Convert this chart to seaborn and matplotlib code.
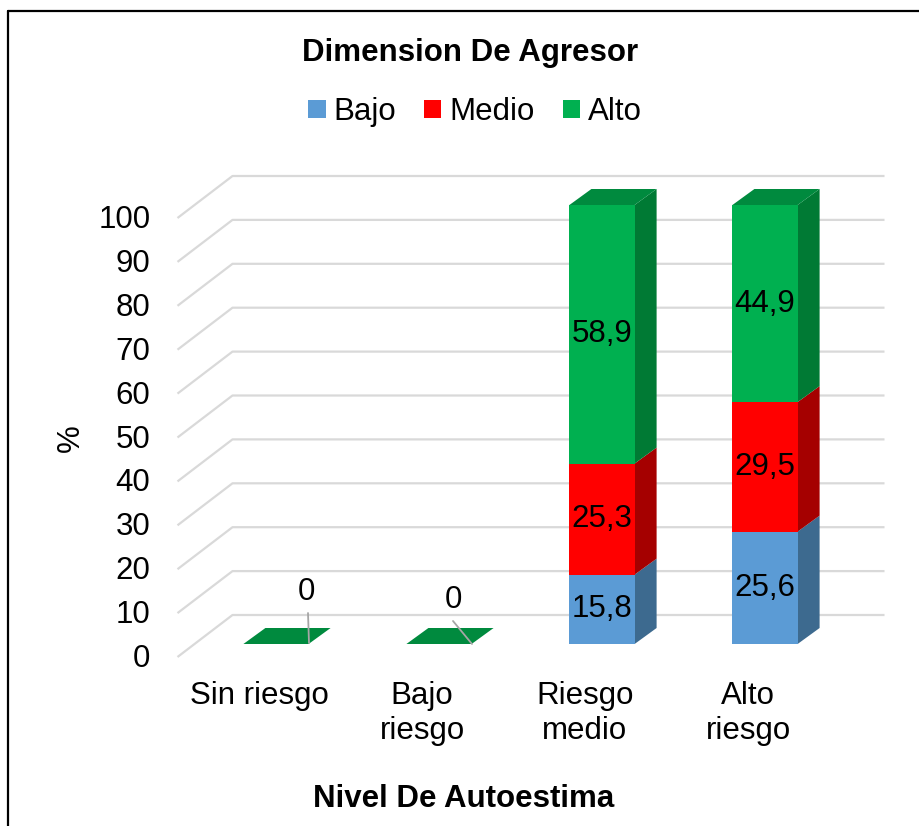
import matplotlib
matplotlib.use("Agg")
import matplotlib.pyplot as plt
from matplotlib.patches import Polygon, Patch
from matplotlib.lines import Line2D
import numpy as np
import seaborn as sns

# data
categories = ["Sin riesgo", "Bajo\nriesgo", "Riesgo\nmedio", "Alto\nriesgo"]
series = ["Bajo", "Medio", "Alto"]
bajo = [0, 0, 15.8, 25.6]
medio = [0, 0, 25.3, 29.5]
alto = [0, 0, 58.9, 44.9]
y_ticks = [0, 10, 20, 30, 40, 50, 60, 70, 80, 90, 100]

front_colors = {"Bajo": "#5B9BD5", "Medio": "#FF0000", "Alto": "#00B050"}
side_colors = {"Bajo": "#3D6A8F", "Medio": "#A50000", "Alto": "#007A34"}
top_color = "#008A3E"
grid_color = "#D9D9D9"

sns.set_style("white")
plt.rcParams["font.family"] = ["Liberation Sans", "DejaVu Sans"]
plt.rcParams["text.color"] = "black"
FS = 22.5

W, H = 919, 826
fig = plt.figure(figsize=(W / 100, H / 100), dpi=100)
ax = fig.add_axes([0, 0, 1, 1])

# pixel geometry of the fake 3D box (bar front plane is the data plane)
PX_CAT, PX_UNIT, X0, Y0 = 163.0, 4.39, 276.0, 644.0


def off(dx_px, dy_px):
    """pixel shift (right, down) -> data shift"""
    return dx_px / PX_CAT, -dy_px / PX_UNIT


bar_dx, bar_dv = off(22, -16)     # bar depth
wall_dx, wall_dv = off(38, -29)   # back wall
edge_dx, edge_dv = off(-17, 13)   # front edge of floor / side wall

cum_medio = np.add(bajo, medio)
cum_alto = cum_medio + np.array(alto)

# front faces, drawn back to front so they stack
for name, vals in [("Alto", cum_alto), ("Medio", cum_medio), ("Bajo", bajo)]:
    sns.barplot(x=categories, y=vals, color=front_colors[name], width=0.4,
                saturation=1, linewidth=0, ax=ax, zorder=3)

# gridlines: side wall diagonal + back wall horizontal
for v in y_ticks:
    xs = [-0.5 + edge_dx, -0.5 + wall_dx, len(categories) - 0.5 + wall_dx]
    ys = [v + edge_dv, v + wall_dv, v + wall_dv]
    ax.plot(xs, ys, color=grid_color, lw=1.6, zorder=0.5, solid_capstyle="butt")
    ax.text(-0.5 + edge_dx - 27 / PX_CAT, v + edge_dv - 2 / PX_UNIT, str(v),
            ha="right", va="center", fontsize=FS)

# side faces, top faces and value labels
bars = ax.patches[:len(categories)]
for i, p in enumerate(bars):
    xl = p.get_x()
    xr = xl + p.get_width()
    xc = xl + p.get_width() / 2
    segs = [(0, bajo[i], "Bajo"), (bajo[i], cum_medio[i], "Medio"),
            (cum_medio[i], cum_alto[i], "Alto")]
    for v0, v1, name in segs:
        if v1 - v0 <= 0:
            continue
        side = [(xr, v0), (xr, v1), (xr + bar_dx, v1 + bar_dv), (xr + bar_dx, v0 + bar_dv)]
        ax.add_patch(Polygon(side, closed=True, facecolor=side_colors[name],
                             edgecolor="none", zorder=2))
        ax.text(xc, (v0 + v1) / 2, f"{v1 - v0:.1f}".replace(".", ","),
                ha="center", va="center", fontsize=FS, zorder=5)
    top = cum_alto[i]
    face = [(xl, top), (xr, top), (xr + bar_dx, top + bar_dv), (xl + bar_dx, top + bar_dv)]
    ax.add_patch(Polygon(face, closed=True, facecolor=top_color,
                         edgecolor="none", zorder=2))
    if top == 0:
        # zero bars: label above with a leader line
        lab_dx, lab_dy = [(30, -52), (14, -44)][i % 2]
        end_dx, end_dy = [(33, -1), (33, 0)][i % 2]
        lx, lv = off(lab_dx, lab_dy)
        ex, ev = off(end_dx, end_dy)
        ax.text(xc + lx, lv, "0", ha="center", va="center", fontsize=FS, zorder=5)
        sx, sv = off(lab_dx + (2 if i == 0 else 0), lab_dy + 21)
        ax.plot([xc + sx, xc + ex], [sv, ev], color="#A6A6A6", lw=1.3, zorder=4)

# category labels on the front edge
for i, c in enumerate(categories):
    ax.text(i + edge_dx, (Y0 - 681) / PX_UNIT, c, ha="center", va="top",
            fontsize=FS, linespacing=1.2)

ax.set_xlim(-X0 / PX_CAT, (W - X0) / PX_CAT)
ax.set_ylim((Y0 - H) / PX_UNIT, Y0 / PX_UNIT)
ax.axis("off")
if ax.get_legend() is not None:
    ax.get_legend().remove()

fig.text(470 / W, 1 - 61 / H, "Dimension De Agresor", ha="center", va="baseline",
         fontsize=FS, fontweight="bold")
fig.text(464 / W, 1 - 807 / H, "Nivel De Autoestima", ha="center", va="baseline",
         fontsize=FS, fontweight="bold")
fig.text(71 / W, 1 - 438 / H, "%", ha="center", va="center", rotation=90, fontsize=FS)

handles = [Patch(facecolor=front_colors[s], edgecolor="none", label=s) for s in series]
fig.legend(handles=handles, loc="center", bbox_to_anchor=(475 / W, 1 - 112 / H),
           ncol=3, frameon=False, fontsize=FS, handlelength=0.55, handleheight=0.55,
           handletextpad=0.25, columnspacing=0.9, labelcolor="black")

# chart frame (left and top edges visible)
fig.add_artist(Line2D([8 / W, 8 / W], [-0.01, 1 - 11 / H], color="black", lw=1.6))
fig.add_artist(Line2D([8 / W, 1.01], [1 - 11 / H, 1 - 11 / H], color="black", lw=1.6))

fig.savefig("out.png", dpi=100)
